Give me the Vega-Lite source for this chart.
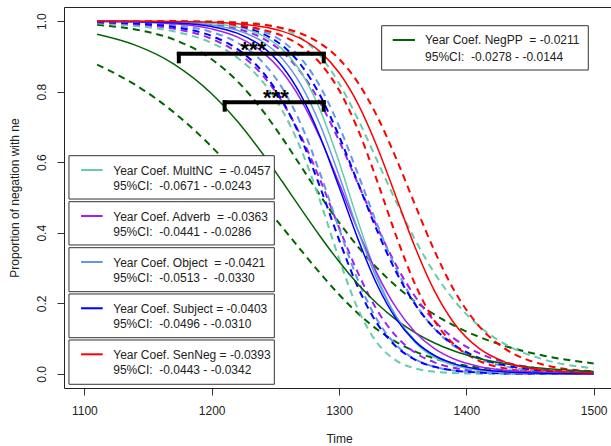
{
"$schema":"https://vega.github.io/schema/vega-lite/v6.json",
"width":550,"height":381,
"autosize":{"type":"none"},
"padding":{"left":64,"top":7,"right":0,"bottom":58},
"background":"white",
"config":{"font":"Liberation Sans","view":{"stroke":"#222","strokeWidth":1}},
"datasets":{
"curves":[
{"g":"NegPP","k":"hi","t":1110,"p":0.9894},{"g":"NegPP","k":"hi","t":1140,"p":0.9763},{"g":"NegPP","k":"hi","t":1170,"p":0.9483},{"g":"NegPP","k":"hi","t":1200,"p":0.8918},{"g":"NegPP","k":"hi","t":1220,"p":0.8302},{"g":"NegPP","k":"hi","t":1240,"p":0.7463},{"g":"NegPP","k":"hi","t":1255,"p":0.6709},{"g":"NegPP","k":"hi","t":1270,"p":0.5890},{"g":"NegPP","k":"hi","t":1285,"p":0.5070},{"g":"NegPP","k":"hi","t":1300,"p":0.4295},{"g":"NegPP","k":"hi","t":1315,"p":0.3601},{"g":"NegPP","k":"hi","t":1330,"p":0.2996},{"g":"NegPP","k":"hi","t":1345,"p":0.2483},{"g":"NegPP","k":"hi","t":1360,"p":0.2047},{"g":"NegPP","k":"hi","t":1375,"p":0.1683},{"g":"NegPP","k":"hi","t":1390,"p":0.1376},{"g":"NegPP","k":"hi","t":1410,"p":0.1049},{"g":"NegPP","k":"hi","t":1430,"p":0.0796},{"g":"NegPP","k":"hi","t":1460,"p":0.0523},{"g":"NegPP","k":"hi","t":1500,"p":0.0296},
{"g":"NegPP","k":"lo","t":1110,"p":0.8767},{"g":"NegPP","k":"lo","t":1140,"p":0.8195},{"g":"NegPP","k":"lo","t":1170,"p":0.7423},{"g":"NegPP","k":"lo","t":1200,"p":0.6436},{"g":"NegPP","k":"lo","t":1220,"p":0.5669},{"g":"NegPP","k":"lo","t":1240,"p":0.4833},{"g":"NegPP","k":"lo","t":1255,"p":0.4178},{"g":"NegPP","k":"lo","t":1270,"p":0.3511},{"g":"NegPP","k":"lo","t":1285,"p":0.2862},{"g":"NegPP","k":"lo","t":1300,"p":0.2251},{"g":"NegPP","k":"lo","t":1315,"p":0.1712},{"g":"NegPP","k":"lo","t":1330,"p":0.1260},{"g":"NegPP","k":"lo","t":1345,"p":0.0903},{"g":"NegPP","k":"lo","t":1360,"p":0.0633},{"g":"NegPP","k":"lo","t":1375,"p":0.0437},{"g":"NegPP","k":"lo","t":1390,"p":0.0298},{"g":"NegPP","k":"lo","t":1410,"p":0.0177},{"g":"NegPP","k":"lo","t":1430,"p":0.0104},{"g":"NegPP","k":"lo","t":1460,"p":0.0046},{"g":"NegPP","k":"lo","t":1500,"p":0.0015},
{"g":"NegPP","k":"fit","t":1110,"p":0.9626},{"g":"NegPP","k":"fit","t":1140,"p":0.9319},{"g":"NegPP","k":"fit","t":1170,"p":0.8790},{"g":"NegPP","k":"fit","t":1200,"p":0.7942},{"g":"NegPP","k":"fit","t":1220,"p":0.7167},{"g":"NegPP","k":"fit","t":1240,"p":0.6239},{"g":"NegPP","k":"fit","t":1255,"p":0.5474},{"g":"NegPP","k":"fit","t":1270,"p":0.4683},{"g":"NegPP","k":"fit","t":1285,"p":0.3910},{"g":"NegPP","k":"fit","t":1300,"p":0.3187},{"g":"NegPP","k":"fit","t":1315,"p":0.2543},{"g":"NegPP","k":"fit","t":1330,"p":0.1989},{"g":"NegPP","k":"fit","t":1345,"p":0.1533},{"g":"NegPP","k":"fit","t":1360,"p":0.1165},{"g":"NegPP","k":"fit","t":1375,"p":0.0877},{"g":"NegPP","k":"fit","t":1390,"p":0.0654},{"g":"NegPP","k":"fit","t":1410,"p":0.0439},{"g":"NegPP","k":"fit","t":1430,"p":0.0292},{"g":"NegPP","k":"fit","t":1460,"p":0.0157},{"g":"NegPP","k":"fit","t":1500,"p":0.0068},
{"g":"MultNC","k":"hi","t":1110,"p":1.0},{"g":"MultNC","k":"hi","t":1140,"p":1.0},{"g":"MultNC","k":"hi","t":1170,"p":0.9999},{"g":"MultNC","k":"hi","t":1200,"p":0.9993},{"g":"MultNC","k":"hi","t":1220,"p":0.9975},{"g":"MultNC","k":"hi","t":1240,"p":0.9913},{"g":"MultNC","k":"hi","t":1255,"p":0.9790},{"g":"MultNC","k":"hi","t":1270,"p":0.9524},{"g":"MultNC","k":"hi","t":1285,"p":0.9026},{"g":"MultNC","k":"hi","t":1300,"p":0.8240},{"g":"MultNC","k":"hi","t":1315,"p":0.7209},{"g":"MultNC","k":"hi","t":1330,"p":0.6044},{"g":"MultNC","k":"hi","t":1345,"p":0.4873},{"g":"MultNC","k":"hi","t":1360,"p":0.3787},{"g":"MultNC","k":"hi","t":1375,"p":0.2858},{"g":"MultNC","k":"hi","t":1390,"p":0.2101},{"g":"MultNC","k":"hi","t":1410,"p":0.1354},{"g":"MultNC","k":"hi","t":1430,"p":0.0853},{"g":"MultNC","k":"hi","t":1460,"p":0.0417},{"g":"MultNC","k":"hi","t":1500,"p":0.0157},
{"g":"MultNC","k":"lo","t":1110,"p":0.9936},{"g":"MultNC","k":"lo","t":1140,"p":0.9864},{"g":"MultNC","k":"lo","t":1170,"p":0.9710},{"g":"MultNC","k":"lo","t":1200,"p":0.9380},{"g":"MultNC","k":"lo","t":1220,"p":0.8968},{"g":"MultNC","k":"lo","t":1240,"p":0.8283},{"g":"MultNC","k":"lo","t":1255,"p":0.7495},{"g":"MultNC","k":"lo","t":1270,"p":0.6381},{"g":"MultNC","k":"lo","t":1285,"p":0.4918},{"g":"MultNC","k":"lo","t":1300,"p":0.3270},{"g":"MultNC","k":"lo","t":1315,"p":0.1829},{"g":"MultNC","k":"lo","t":1330,"p":0.0876},{"g":"MultNC","k":"lo","t":1345,"p":0.0377},{"g":"MultNC","k":"lo","t":1360,"p":0.0153},{"g":"MultNC","k":"lo","t":1375,"p":0.0060},{"g":"MultNC","k":"lo","t":1390,"p":0.0023},{"g":"MultNC","k":"lo","t":1410,"p":0.0006},{"g":"MultNC","k":"lo","t":1430,"p":0.0002},{"g":"MultNC","k":"lo","t":1460,"p":0.0},{"g":"MultNC","k":"lo","t":1500,"p":0.0},
{"g":"MultNC","k":"fit","t":1110,"p":0.9999},{"g":"MultNC","k":"fit","t":1140,"p":0.9996},{"g":"MultNC","k":"fit","t":1170,"p":0.9983},{"g":"MultNC","k":"fit","t":1200,"p":0.9932},{"g":"MultNC","k":"fit","t":1220,"p":0.9832},{"g":"MultNC","k":"fit","t":1240,"p":0.9590},{"g":"MultNC","k":"fit","t":1255,"p":0.9219},{"g":"MultNC","k":"fit","t":1270,"p":0.8559},{"g":"MultNC","k":"fit","t":1285,"p":0.7497},{"g":"MultNC","k":"fit","t":1300,"p":0.6013},{"g":"MultNC","k":"fit","t":1315,"p":0.4319},{"g":"MultNC","k":"fit","t":1330,"p":0.2769},{"g":"MultNC","k":"fit","t":1345,"p":0.1618},{"g":"MultNC","k":"fit","t":1360,"p":0.0886},{"g":"MultNC","k":"fit","t":1375,"p":0.0467},{"g":"MultNC","k":"fit","t":1390,"p":0.0241},{"g":"MultNC","k":"fit","t":1410,"p":0.0098},{"g":"MultNC","k":"fit","t":1430,"p":0.0040},{"g":"MultNC","k":"fit","t":1460,"p":0.0010},{"g":"MultNC","k":"fit","t":1500,"p":0.0002},
{"g":"Adverb","k":"hi","t":1110,"p":0.9998},{"g":"Adverb","k":"hi","t":1140,"p":0.9993},{"g":"Adverb","k":"hi","t":1170,"p":0.9974},{"g":"Adverb","k":"hi","t":1200,"p":0.9905},{"g":"Adverb","k":"hi","t":1220,"p":0.9782},{"g":"Adverb","k":"hi","t":1240,"p":0.9514},{"g":"Adverb","k":"hi","t":1255,"p":0.9142},{"g":"Adverb","k":"hi","t":1270,"p":0.8552},{"g":"Adverb","k":"hi","t":1285,"p":0.7703},{"g":"Adverb","k":"hi","t":1300,"p":0.6613},{"g":"Adverb","k":"hi","t":1315,"p":0.5387},{"g":"Adverb","k":"hi","t":1330,"p":0.4163},{"g":"Adverb","k":"hi","t":1345,"p":0.3072},{"g":"Adverb","k":"hi","t":1360,"p":0.2181},{"g":"Adverb","k":"hi","t":1375,"p":0.1503},{"g":"Adverb","k":"hi","t":1390,"p":0.1014},{"g":"Adverb","k":"hi","t":1410,"p":0.0588},{"g":"Adverb","k":"hi","t":1430,"p":0.0335},{"g":"Adverb","k":"hi","t":1460,"p":0.0143},{"g":"Adverb","k":"hi","t":1500,"p":0.0045},
{"g":"Adverb","k":"lo","t":1110,"p":0.9962},{"g":"Adverb","k":"lo","t":1140,"p":0.9910},{"g":"Adverb","k":"lo","t":1170,"p":0.9787},{"g":"Adverb","k":"lo","t":1200,"p":0.9496},{"g":"Adverb","k":"lo","t":1220,"p":0.9113},{"g":"Adverb","k":"lo","t":1240,"p":0.8466},{"g":"Adverb","k":"lo","t":1255,"p":0.7735},{"g":"Adverb","k":"lo","t":1270,"p":0.6746},{"g":"Adverb","k":"lo","t":1285,"p":0.5516},{"g":"Adverb","k":"lo","t":1300,"p":0.4151},{"g":"Adverb","k":"lo","t":1315,"p":0.2856},{"g":"Adverb","k":"lo","t":1330,"p":0.1803},{"g":"Adverb","k":"lo","t":1345,"p":0.1065},{"g":"Adverb","k":"lo","t":1360,"p":0.0599},{"g":"Adverb","k":"lo","t":1375,"p":0.0327},{"g":"Adverb","k":"lo","t":1390,"p":0.0175},{"g":"Adverb","k":"lo","t":1410,"p":0.0075},{"g":"Adverb","k":"lo","t":1430,"p":0.0032},{"g":"Adverb","k":"lo","t":1460,"p":0.0009},{"g":"Adverb","k":"lo","t":1500,"p":0.0002},
{"g":"Adverb","k":"fit","t":1110,"p":0.9991},{"g":"Adverb","k":"fit","t":1140,"p":0.9975},{"g":"Adverb","k":"fit","t":1170,"p":0.9925},{"g":"Adverb","k":"fit","t":1200,"p":0.9780},{"g":"Adverb","k":"fit","t":1220,"p":0.9555},{"g":"Adverb","k":"fit","t":1240,"p":0.9122},{"g":"Adverb","k":"fit","t":1255,"p":0.8578},{"g":"Adverb","k":"fit","t":1270,"p":0.7777},{"g":"Adverb","k":"fit","t":1285,"p":0.6700},{"g":"Adverb","k":"fit","t":1300,"p":0.5407},{"g":"Adverb","k":"fit","t":1315,"p":0.4059},{"g":"Adverb","k":"fit","t":1330,"p":0.2837},{"g":"Adverb","k":"fit","t":1345,"p":0.1870},{"g":"Adverb","k":"fit","t":1360,"p":0.1176},{"g":"Adverb","k":"fit","t":1375,"p":0.0718},{"g":"Adverb","k":"fit","t":1390,"p":0.0429},{"g":"Adverb","k":"fit","t":1410,"p":0.0212},{"g":"Adverb","k":"fit","t":1430,"p":0.0104},{"g":"Adverb","k":"fit","t":1460,"p":0.0035},{"g":"Adverb","k":"fit","t":1500,"p":0.0008},
{"g":"Object","k":"hi","t":1110,"p":1.0},{"g":"Object","k":"hi","t":1140,"p":0.9998},{"g":"Object","k":"hi","t":1170,"p":0.9991},{"g":"Object","k":"hi","t":1200,"p":0.9959},{"g":"Object","k":"hi","t":1220,"p":0.9890},{"g":"Object","k":"hi","t":1240,"p":0.9716},{"g":"Object","k":"hi","t":1255,"p":0.9441},{"g":"Object","k":"hi","t":1270,"p":0.8950},{"g":"Object","k":"hi","t":1285,"p":0.8155},{"g":"Object","k":"hi","t":1300,"p":0.7027},{"g":"Object","k":"hi","t":1315,"p":0.5654},{"g":"Object","k":"hi","t":1330,"p":0.4238},{"g":"Object","k":"hi","t":1345,"p":0.2975},{"g":"Object","k":"hi","t":1360,"p":0.1986},{"g":"Object","k":"hi","t":1375,"p":0.1275},{"g":"Object","k":"hi","t":1390,"p":0.0800},{"g":"Object","k":"hi","t":1410,"p":0.0420},{"g":"Object","k":"hi","t":1430,"p":0.0218},{"g":"Object","k":"hi","t":1460,"p":0.0080},{"g":"Object","k":"hi","t":1500,"p":0.0021},
{"g":"Object","k":"lo","t":1110,"p":0.9985},{"g":"Object","k":"lo","t":1140,"p":0.9959},{"g":"Object","k":"lo","t":1170,"p":0.9887},{"g":"Object","k":"lo","t":1200,"p":0.9690},{"g":"Object","k":"lo","t":1220,"p":0.9395},{"g":"Object","k":"lo","t":1240,"p":0.8834},{"g":"Object","k":"lo","t":1255,"p":0.8126},{"g":"Object","k":"lo","t":1270,"p":0.7087},{"g":"Object","k":"lo","t":1285,"p":0.5700},{"g":"Object","k":"lo","t":1300,"p":0.4124},{"g":"Object","k":"lo","t":1315,"p":0.2648},{"g":"Object","k":"lo","t":1330,"p":0.1528},{"g":"Object","k":"lo","t":1345,"p":0.0813},{"g":"Object","k":"lo","t":1360,"p":0.0410},{"g":"Object","k":"lo","t":1375,"p":0.0201},{"g":"Object","k":"lo","t":1390,"p":0.0097},{"g":"Object","k":"lo","t":1410,"p":0.0036},{"g":"Object","k":"lo","t":1430,"p":0.0013},{"g":"Object","k":"lo","t":1460,"p":0.0003},{"g":"Object","k":"lo","t":1500,"p":0.0},
{"g":"Object","k":"fit","t":1110,"p":0.9997},{"g":"Object","k":"fit","t":1140,"p":0.9991},{"g":"Object","k":"fit","t":1170,"p":0.9968},{"g":"Object","k":"fit","t":1200,"p":0.9886},{"g":"Object","k":"fit","t":1220,"p":0.9739},{"g":"Object","k":"fit","t":1240,"p":0.9415},{"g":"Object","k":"fit","t":1255,"p":0.8954},{"g":"Object","k":"fit","t":1270,"p":0.8199},{"g":"Object","k":"fit","t":1285,"p":0.7077},{"g":"Object","k":"fit","t":1300,"p":0.5629},{"g":"Object","k":"fit","t":1315,"p":0.4064},{"g":"Object","k":"fit","t":1330,"p":0.2670},{"g":"Object","k":"fit","t":1345,"p":0.1622},{"g":"Object","k":"fit","t":1360,"p":0.0934},{"g":"Object","k":"fit","t":1375,"p":0.0519},{"g":"Object","k":"fit","t":1390,"p":0.0283},{"g":"Object","k":"fit","t":1410,"p":0.0124},{"g":"Object","k":"fit","t":1430,"p":0.0054},{"g":"Object","k":"fit","t":1460,"p":0.0015},{"g":"Object","k":"fit","t":1500,"p":0.0003},
{"g":"Subject","k":"hi","t":1110,"p":0.9999},{"g":"Subject","k":"hi","t":1140,"p":0.9997},{"g":"Subject","k":"hi","t":1170,"p":0.9987},{"g":"Subject","k":"hi","t":1200,"p":0.9944},{"g":"Subject","k":"hi","t":1220,"p":0.9857},{"g":"Subject","k":"hi","t":1240,"p":0.9644},{"g":"Subject","k":"hi","t":1255,"p":0.9320},{"g":"Subject","k":"hi","t":1270,"p":0.8763},{"g":"Subject","k":"hi","t":1285,"p":0.7903},{"g":"Subject","k":"hi","t":1300,"p":0.6744},{"g":"Subject","k":"hi","t":1315,"p":0.5399},{"g":"Subject","k":"hi","t":1330,"p":0.4056},{"g":"Subject","k":"hi","t":1345,"p":0.2880},{"g":"Subject","k":"hi","t":1360,"p":0.1959},{"g":"Subject","k":"hi","t":1375,"p":0.1290},{"g":"Subject","k":"hi","t":1390,"p":0.0833},{"g":"Subject","k":"hi","t":1410,"p":0.0454},{"g":"Subject","k":"hi","t":1430,"p":0.0245},{"g":"Subject","k":"hi","t":1460,"p":0.0096},{"g":"Subject","k":"hi","t":1500,"p":0.0027},
{"g":"Subject","k":"lo","t":1110,"p":0.9975},{"g":"Subject","k":"lo","t":1140,"p":0.9936},{"g":"Subject","k":"lo","t":1170,"p":0.9836},{"g":"Subject","k":"lo","t":1200,"p":0.9578},{"g":"Subject","k":"lo","t":1220,"p":0.9213},{"g":"Subject","k":"lo","t":1240,"p":0.8557},{"g":"Subject","k":"lo","t":1255,"p":0.7775},{"g":"Subject","k":"lo","t":1270,"p":0.6686},{"g":"Subject","k":"lo","t":1285,"p":0.5307},{"g":"Subject","k":"lo","t":1300,"p":0.3808},{"g":"Subject","k":"lo","t":1315,"p":0.2445},{"g":"Subject","k":"lo","t":1330,"p":0.1426},{"g":"Subject","k":"lo","t":1345,"p":0.0772},{"g":"Subject","k":"lo","t":1360,"p":0.0398},{"g":"Subject","k":"lo","t":1375,"p":0.0200},{"g":"Subject","k":"lo","t":1390,"p":0.0098},{"g":"Subject","k":"lo","t":1410,"p":0.0038},{"g":"Subject","k":"lo","t":1430,"p":0.0014},{"g":"Subject","k":"lo","t":1460,"p":0.0003},{"g":"Subject","k":"lo","t":1500,"p":0.0},
{"g":"Subject","k":"fit","t":1110,"p":0.9996},{"g":"Subject","k":"fit","t":1140,"p":0.9986},{"g":"Subject","k":"fit","t":1170,"p":0.9953},{"g":"Subject","k":"fit","t":1200,"p":0.9845},{"g":"Subject","k":"fit","t":1220,"p":0.9659},{"g":"Subject","k":"fit","t":1240,"p":0.9268},{"g":"Subject","k":"fit","t":1255,"p":0.8737},{"g":"Subject","k":"fit","t":1270,"p":0.7908},{"g":"Subject","k":"fit","t":1285,"p":0.6737},{"g":"Subject","k":"fit","t":1300,"p":0.5302},{"g":"Subject","k":"fit","t":1315,"p":0.3813},{"g":"Subject","k":"fit","t":1330,"p":0.2520},{"g":"Subject","k":"fit","t":1345,"p":0.1554},{"g":"Subject","k":"fit","t":1360,"p":0.0914},{"g":"Subject","k":"fit","t":1375,"p":0.0521},{"g":"Subject","k":"fit","t":1390,"p":0.0291},{"g":"Subject","k":"fit","t":1410,"p":0.0132},{"g":"Subject","k":"fit","t":1430,"p":0.0060},{"g":"Subject","k":"fit","t":1460,"p":0.0018},{"g":"Subject","k":"fit","t":1500,"p":0.0004},
{"g":"SenNeg","k":"hi","t":1110,"p":1.0},{"g":"SenNeg","k":"hi","t":1140,"p":0.9999},{"g":"SenNeg","k":"hi","t":1170,"p":0.9995},{"g":"SenNeg","k":"hi","t":1200,"p":0.9981},{"g":"SenNeg","k":"hi","t":1220,"p":0.9956},{"g":"SenNeg","k":"hi","t":1240,"p":0.9896},{"g":"SenNeg","k":"hi","t":1255,"p":0.9807},{"g":"SenNeg","k":"hi","t":1270,"p":0.9648},{"g":"SenNeg","k":"hi","t":1285,"p":0.9376},{"g":"SenNeg","k":"hi","t":1300,"p":0.8931},{"g":"SenNeg","k":"hi","t":1315,"p":0.8250},{"g":"SenNeg","k":"hi","t":1330,"p":0.7299},{"g":"SenNeg","k":"hi","t":1345,"p":0.6099},{"g":"SenNeg","k":"hi","t":1360,"p":0.4769},{"g":"SenNeg","k":"hi","t":1375,"p":0.3487},{"g":"SenNeg","k":"hi","t":1390,"p":0.2396},{"g":"SenNeg","k":"hi","t":1410,"p":0.1353},{"g":"SenNeg","k":"hi","t":1430,"p":0.0723},{"g":"SenNeg","k":"hi","t":1460,"p":0.0268},{"g":"SenNeg","k":"hi","t":1500,"p":0.0069},
{"g":"SenNeg","k":"lo","t":1110,"p":0.9997},{"g":"SenNeg","k":"lo","t":1140,"p":0.9993},{"g":"SenNeg","k":"lo","t":1170,"p":0.9979},{"g":"SenNeg","k":"lo","t":1200,"p":0.9941},{"g":"SenNeg","k":"lo","t":1220,"p":0.9881},{"g":"SenNeg","k":"lo","t":1240,"p":0.9757},{"g":"SenNeg","k":"lo","t":1255,"p":0.9587},{"g":"SenNeg","k":"lo","t":1270,"p":0.9298},{"g":"SenNeg","k":"lo","t":1285,"p":0.8815},{"g":"SenNeg","k":"lo","t":1300,"p":0.8046},{"g":"SenNeg","k":"lo","t":1315,"p":0.6915},{"g":"SenNeg","k":"lo","t":1330,"p":0.5464},{"g":"SenNeg","k":"lo","t":1345,"p":0.3901},{"g":"SenNeg","k":"lo","t":1360,"p":0.2521},{"g":"SenNeg","k":"lo","t":1375,"p":0.1502},{"g":"SenNeg","k":"lo","t":1390,"p":0.0845},{"g":"SenNeg","k":"lo","t":1410,"p":0.0371},{"g":"SenNeg","k":"lo","t":1430,"p":0.0158},{"g":"SenNeg","k":"lo","t":1460,"p":0.0043},{"g":"SenNeg","k":"lo","t":1500,"p":0.0007},
{"g":"SenNeg","k":"fit","t":1110,"p":0.9999},{"g":"SenNeg","k":"fit","t":1140,"p":0.9997},{"g":"SenNeg","k":"fit","t":1170,"p":0.9990},{"g":"SenNeg","k":"fit","t":1200,"p":0.9967},{"g":"SenNeg","k":"fit","t":1220,"p":0.9927},{"g":"SenNeg","k":"fit","t":1240,"p":0.9841},{"g":"SenNeg","k":"fit","t":1255,"p":0.9717},{"g":"SenNeg","k":"fit","t":1270,"p":0.9502},{"g":"SenNeg","k":"fit","t":1285,"p":0.9136},{"g":"SenNeg","k":"fit","t":1300,"p":0.8543},{"g":"SenNeg","k":"fit","t":1315,"p":0.7648},{"g":"SenNeg","k":"fit","t":1330,"p":0.6434},{"g":"SenNeg","k":"fit","t":1345,"p":0.5},{"g":"SenNeg","k":"fit","t":1360,"p":0.3566},{"g":"SenNeg","k":"fit","t":1375,"p":0.2352},{"g":"SenNeg","k":"fit","t":1390,"p":0.1457},{"g":"SenNeg","k":"fit","t":1410,"p":0.0721},{"g":"SenNeg","k":"fit","t":1430,"p":0.0342},{"g":"SenNeg","k":"fit","t":1460,"p":0.0108},{"g":"SenNeg","k":"fit","t":1500,"p":0.0023}
],
"brackets":[
{"t":1174.2,"t2":1288.0,"p":0.9073,"p2":0.9073},{"t":1174.2,"t2":1174.2,"p":0.9073,"p2":0.886},{"t":1288.0,"t2":1288.0,"p":0.9073,"p2":0.886},
{"t":1210.2,"t2":1288.0,"p":0.7701,"p2":0.7701},{"t":1210.2,"t2":1210.2,"p":0.7701,"p2":0.7489},{"t":1288.0,"t2":1288.0,"p":0.7701,"p2":0.7489}
],
"stars":[{"t":1232.7,"p":0.8985,"s":"***"},{"t":1250.4,"p":0.7619,"s":"***"}],
"boxes":[
{"t":1087.9,"t2":1249.2,"p":0.6185,"p2":0.4957},
{"t":1087.9,"t2":1249.2,"p":0.4881,"p2":0.3654},
{"t":1087.9,"t2":1249.2,"p":0.3577,"p2":0.2330},
{"t":1087.9,"t2":1249.2,"p":0.2265,"p2":0.1026},
{"t":1087.9,"t2":1249.2,"p":0.0961,"p2":-0.0295},
{"t":1333.5,"t2":1495.8,"p":0.987,"p2":0.8614}
],
"keylines":[
{"g":"MultNC","t":1097.4,"t2":1114.4,"p":0.578},
{"g":"Adverb","t":1097.4,"t2":1114.4,"p":0.4475},
{"g":"Object","t":1097.4,"t2":1114.4,"p":0.3171},
{"g":"Subject","t":1097.4,"t2":1114.4,"p":0.186},
{"g":"SenNeg","t":1097.4,"t2":1114.4,"p":0.0555},
{"g":"NegPP","t":1342.2,"t2":1359.7,"p":0.9465}
],
"keytext":[
{"t":1122.7,"p":0.576,"s":"Year Coef. MultNC\u00a0 = -0.0457"},
{"t":1122.7,"p":0.5334,"s":"95%CI:\u00a0 -0.0671 - -0.0243"},
{"t":1122.7,"p":0.4456,"s":"Year Coef. Adverb\u00a0 = -0.0363"},
{"t":1122.7,"p":0.4031,"s":"95%CI:\u00a0 -0.0441 - -0.0286"},
{"t":1122.7,"p":0.3152,"s":"Year Coef. Object\u00a0 = -0.0421"},
{"t":1122.7,"p":0.2727,"s":"95%CI:\u00a0 -0.0513 -\u00a0 -0.0330"},
{"t":1122.7,"p":0.184,"s":"Year Coef. Subject = -0.0403"},
{"t":1122.7,"p":0.1414,"s":"95%CI:\u00a0 -0.0496 - -0.0310"},
{"t":1122.7,"p":0.0535,"s":"Year Coef. SenNeg = -0.0393"},
{"t":1122.7,"p":0.011,"s":"95%CI:\u00a0 -0.0443 - -0.0342"},
{"t":1367.6,"p":0.9465,"s":"Year Coef. NegPP\u00a0 = -0.0211"},
{"t":1367.6,"p":0.8991,"s":"95%CI:\u00a0 -0.0278 - -0.0144"}
]
},
"layer":[
{"data":{"name":"curves"},
 "transform":[{"filter":"datum.k != 'fit'"}],
 "mark":{"type":"line","interpolate":"monotone","strokeWidth":2,"strokeDash":[7,5]},
 "encoding":{
  "x":{"field":"t","type":"quantitative","scale":{"domain":[1084,1516],"nice":false,"zero":false},
       "axis":{"title":"Time","values":[1100,1200,1300,1400,1500],"format":"d","domain":false,"grid":false,"tickSize":7,"tickColor":"#333","labelFontSize":12,"labelColor":"#222","labelPadding":10,"labelFlush":false,"labelOverlap":false,"titleFontSize":12,"titleFontWeight":"normal","titleColor":"#222","titlePadding":17}},
  "y":{"field":"p","type":"quantitative","scale":{"domain":[-0.04,1.04],"nice":false,"zero":false},
       "axis":{"title":"Proportion of negation with ne","values":[0,0.2,0.4,0.6,0.8,1],"format":".1f","domain":false,"grid":false,"tickSize":7,"tickColor":"#333","labelFontSize":12,"labelColor":"#222","labelAngle":-90,"labelAlign":"center","labelBaseline":"bottom","labelPadding":9,"labelFlush":false,"labelOverlap":false,"titleFontSize":12,"titleFontWeight":"normal","titleColor":"#222","titlePadding":14}},
  "color":{"field":"g","type":"nominal","scale":{"domain":["NegPP","MultNC","Adverb","Object","Subject","SenNeg"],"range":["#006400","#66CDAA","#A020F0","#6495ED","#0000FF","#FF0000"]},"legend":null},
  "detail":{"field":"k"},
  "order":{"field":"t","type":"quantitative"}
 }},
{"data":{"name":"curves"},
 "transform":[{"filter":"datum.k == 'fit'"}],
 "mark":{"type":"line","interpolate":"monotone","strokeWidth":1.5},
 "encoding":{
  "x":{"field":"t","type":"quantitative"},
  "y":{"field":"p","type":"quantitative"},
  "color":{"field":"g","type":"nominal","legend":null},
  "order":{"field":"t","type":"quantitative"}
 }},
{"data":{"name":"brackets"},
 "mark":{"type":"rule","color":"black","strokeWidth":4,"strokeCap":"square"},
 "encoding":{"x":{"field":"t","type":"quantitative"},"x2":{"field":"t2"},"y":{"field":"p","type":"quantitative"},"y2":{"field":"p2"}}},
{"data":{"name":"stars"},
 "mark":{"type":"text","fontSize":22,"fontWeight":"bold","color":"black","align":"center","baseline":"alphabetic"},
 "encoding":{"x":{"field":"t","type":"quantitative"},"y":{"field":"p","type":"quantitative"},"text":{"field":"s"}}},
{"data":{"name":"boxes"},
 "mark":{"type":"rect","fill":"white","stroke":"#333","strokeWidth":1},
 "encoding":{"x":{"field":"t","type":"quantitative"},"x2":{"field":"t2"},"y":{"field":"p","type":"quantitative"},"y2":{"field":"p2"}}},
{"data":{"name":"keylines"},
 "mark":{"type":"rule","strokeWidth":2},
 "encoding":{"x":{"field":"t","type":"quantitative"},"x2":{"field":"t2"},"y":{"field":"p","type":"quantitative"},"color":{"field":"g","type":"nominal","legend":null}}},
{"data":{"name":"keytext"},
 "mark":{"type":"text","fontSize":12,"color":"#222","align":"left","baseline":"middle"},
 "encoding":{"x":{"field":"t","type":"quantitative"},"y":{"field":"p","type":"quantitative"},"text":{"field":"s"}}}
]
}
